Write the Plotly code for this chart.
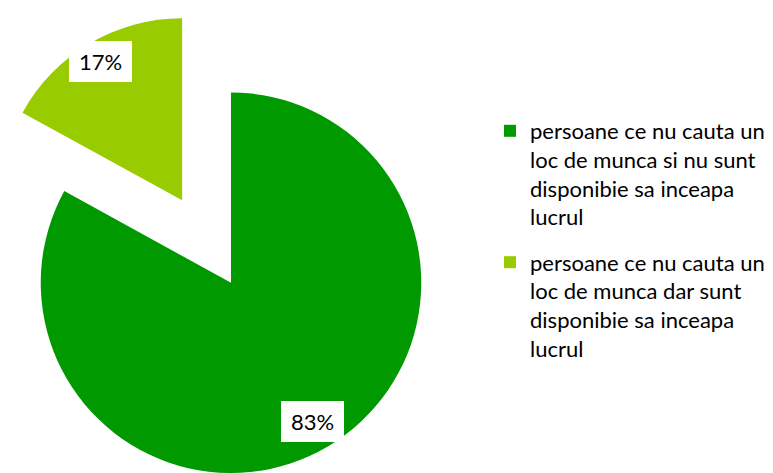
import math
import plotly.graph_objects as go

# ---- data ----
labels = [
    "persoane ce nu cauta un<br>loc de munca si nu sunt<br>disponibie sa inceapa<br>lucrul",
    "persoane ce nu cauta un<br>loc de munca dar sunt<br>disponibie sa inceapa<br>lucrul",
]
values = [83, 17]
colors = ["#009900", "#99CC00"]

# ---- layout geometry (pixels) ----
W, H = 773, 473
main_cx, main_cy, main_r = 231.0, 283.0, 190.5
pull_px = 96.0
label_dist = 161.0

total = sum(values)
fracs = [v / total for v in values]

# angles (clockwise from 12 o'clock) of slice bisectors
mids = []
acc = 0.0
for f in fracs:
    mids.append((acc + f / 2) * 360.0)
    acc += f

def direction(deg):
    a = math.radians(deg)
    return math.sin(a), -math.cos(a)

# pulled slice (index 1)
dx, dy = direction(mids[1])
ax, ay = main_cx + pull_px * dx, main_cy + pull_px * dy
r2 = min(ax, main_r, ay)

def dom(cx, cy, r):
    return dict(x=[max(0, (cx - r) / W), min(1, (cx + r) / W)],
                y=[max(0, 1 - (cy + r) / H), min(1, 1 - (cy - r) / H)])

common = dict(values=values, labels=labels, sort=False, direction="clockwise",
              rotation=0, textinfo="none", hoverinfo="skip", showlegend=False)

centers = [(main_cx, main_cy), (ax, ay)]

fig = go.Figure()
# legend entries: one tiny pie per category, hidden under its own coloured slice
for i in range(len(values)):
    ddx, ddy = direction(mids[i])
    hx = centers[i][0] + 0.5 * label_dist * ddx
    hy = centers[i][1] + 0.5 * label_dist * ddy
    fig.add_trace(go.Pie(values=[values[i]], labels=[labels[i]], marker=dict(colors=[colors[i]]),
                         textinfo="none", hoverinfo="skip", showlegend=True,
                         legendgroup=f"g{i}", domain=dom(hx, hy, 0.3)))

# main pie
fig.add_trace(go.Pie(**common, marker=dict(colors=[colors[0], "rgba(0,0,0,0)"]),
                     domain=dom(main_cx, main_cy, main_r)))
# pulled slice
fig.add_trace(go.Pie(**common, marker=dict(colors=["rgba(0,0,0,0)", colors[1]]),
                     domain=dom(ax, ay, r2)))

# percentage labels
annotations = []
for i, v in enumerate(values):
    ddx, ddy = direction(mids[i])
    px = centers[i][0] + label_dist * ddx
    py = centers[i][1] + label_dist * ddy
    annotations.append(dict(
        x=px / W, y=1 - py / H, xref="paper", yref="paper",
        text=f"{round(v / total * 100)}%", showarrow=False,
        font=dict(family="Lato", size=22, color="#000000"),
        bgcolor="white", width=61, height=39, borderpad=0, borderwidth=1,
        bordercolor="white", xanchor="center", yanchor="middle",
    ))

fig.update_layout(
    width=W, height=H,
    margin=dict(l=0, r=0, t=0, b=0),
    paper_bgcolor="white", plot_bgcolor="white",
    annotations=annotations,
    legend=dict(x=490 / W, y=1 - 110 / H, xanchor="left", yanchor="top",
                valign="top", traceorder="grouped", tracegroupgap=14,
                font=dict(family="Lato", size=22, color="#000000"),
                bgcolor="rgba(0,0,0,0)"),
)

fig.write_html("out.html", config={"displayModeBar": False},
               post_script="document.body.style.margin='0';")
